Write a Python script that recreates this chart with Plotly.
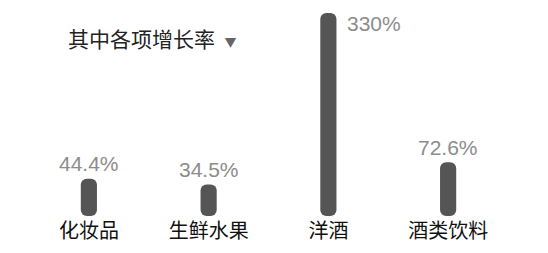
import plotly.graph_objects as go

categories = ["化妆品", "生鲜水果", "洋酒", "酒类饮料"]
growth = [44.4, 34.5, 330, 72.6]
labels = ["44.4%", "34.5%", "330%", "72.6%"]
title_text = "其中各项增长率"

FONT = "Noto Sans CJK SC"
BASE = -20

fig = go.Figure()
fig.add_trace(go.Bar(
    x=categories, y=[v - BASE for v in growth], base=BASE,
    width=0.135,
    marker=dict(color="#555555", cornerradius=6, line=dict(width=0)),
    hoverinfo="skip",
))

for c, v, t in zip(categories, growth, labels):
    if v == max(growth):
        xs, ys = 46, -11
    else:
        xs, ys = 0, 15
    fig.add_annotation(x=c, y=v, text=t, showarrow=False, xshift=xs, yshift=ys,
                       yanchor="middle", xanchor="center",
                       font=dict(family="Liberation Sans", size=21, color="#8c8c8c"))

fig.add_annotation(xref="paper", yref="paper", x=0.078, y=0.855,
                   text=title_text + "&nbsp;&nbsp;<span style='color:#666;font-size:12px'>▼</span>",
                   showarrow=False, xanchor="left", yanchor="middle",
                   font=dict(family=FONT, size=21, color="#222222"))

fig.update_layout(
    width=548, height=253,
    margin=dict(l=21, r=48, t=0, b=45),
    paper_bgcolor="white", plot_bgcolor="white",
    showlegend=False,
    xaxis=dict(range=[-0.5, 3.5], showgrid=False, showline=False, zeroline=False,
               ticks="", tickfont=dict(family=FONT, size=20, color="#111111"),
               ticklabelstandoff=1),
    yaxis=dict(range=[BASE, 338.6], visible=False, showgrid=False, zeroline=False),
)

fig.write_html("out.html")
